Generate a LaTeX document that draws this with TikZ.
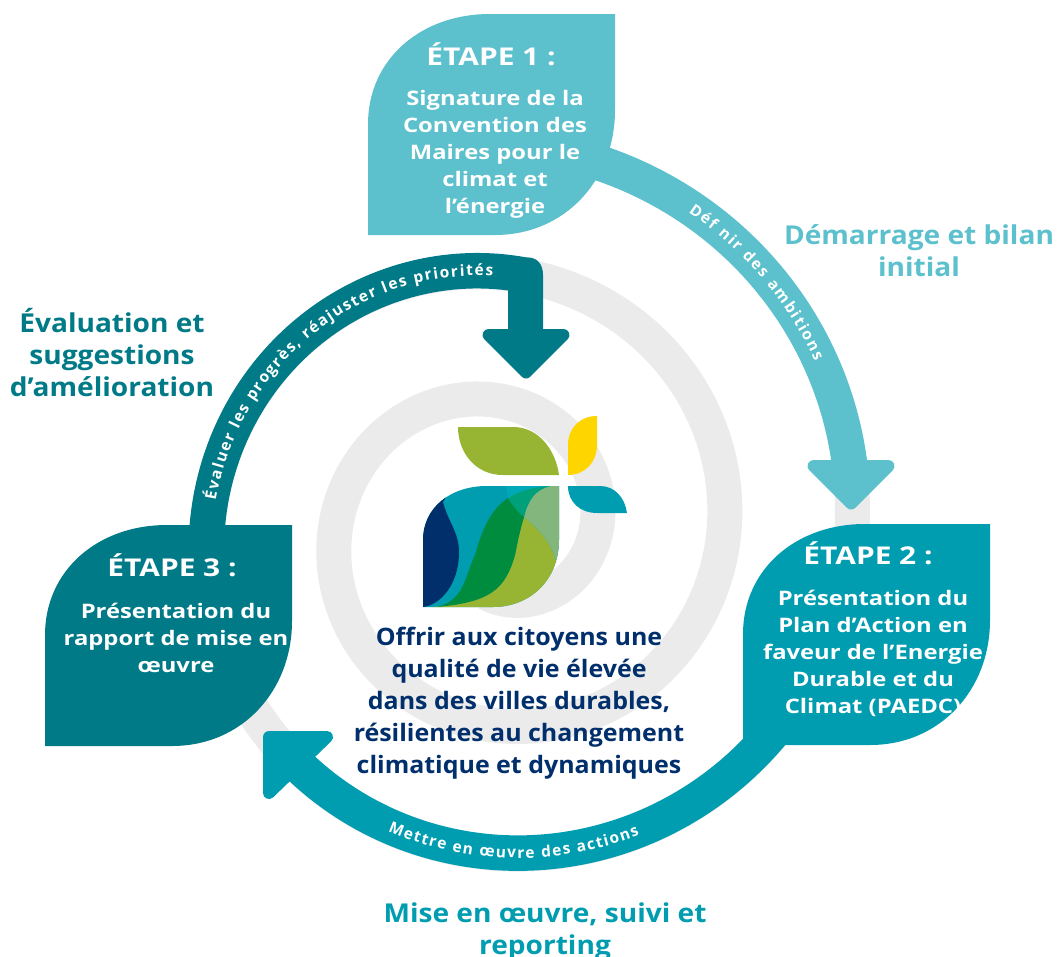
\documentclass[tikz,border=0pt]{standalone}
\usepackage{fontspec}
\setmainfont{Open Sans}
\newfontfamily\titlefam[FakeStretch=1.22]{Open Sans}
\newfontfamily\bodyfam[FakeStretch=1.19]{Open Sans}
\newfontfamily\phasefam[FakeStretch=1.08]{Open Sans}
\newfontfamily\centrefam[FakeStretch=1.04]{Open Sans}
\usetikzlibrary{decorations.text}
\definecolor{lightc}{HTML}{5CC0CD}
\definecolor{tealc}{HTML}{009CB0}
\definecolor{darkc}{HTML}{007A87}
\definecolor{greyc}{HTML}{EBEBEB}
\definecolor{navyc}{HTML}{002F6C}
\definecolor{greenc}{HTML}{008C3E}
\definecolor{limec}{HTML}{97B433}
\definecolor{yellowc}{HTML}{FFD500}
\definecolor{palec}{HTML}{82B67C}
\definecolor{midc}{HTML}{00A07A}
\definecolor{brightc}{HTML}{00A9B7}
\newcommand{\leafshape}{(0,221) -- (0,110) .. controls (0,46) and (52,0) .. (122,0) -- (247,0) -- (247,96) .. controls (247,166) and (197,221) .. (127,221) -- cycle}
\newcommand{\arcfont}{\fontsize{15.5}{16}\selectfont\bfseries\color{white}}
\tikzset{
  declare function={sr(\t)=98.5+0.355556*\t; sx(\t,\o)=497.5+(sr(\t)+\o)*cos(\t); sy(\t,\o)=530-(sr(\t)+\o)*sin(\t); gy(\t,\o)=531-(sr(\t)+\o)*sin(\t);},
  band/.style={line width=35.5pt},
  head/.style={line width=12pt,line join=round},
  stagetitle/.style={text=white,font=\titlefam\fontsize{24.5}{28}\selectfont\bfseries,align=center},
  stagebody/.style={text=white,font=\bodyfam\fontsize{20}{27}\selectfont\bfseries,align=center},
  phase/.style={font=\phasefam\fontsize{26}{32}\selectfont\bfseries,align=center},
  centre/.style={text=navyc,font=\centrefam\fontsize{24}{32}\selectfont\bfseries,align=center},
}
\begin{document}
\begin{tikzpicture}[x=1pt,y=-1pt]
\useasboundingbox (0,0) rectangle (1057,956);
% grey spiral
\draw[greyc,line width=35pt] plot[domain=-100:730,samples=300,variable=\t] ({sx(\t,0)},{gy(\t,0)});
% logo
\fill[limec] (458,427) -- (513,427) .. controls (540,427) and (556,452) .. (559,475) -- (503,475) .. controls (475,475) and (458,452) .. (458,427) -- cycle;
\fill[yellowc] (597,416) -- (597,445) .. controls (597,462) and (585,475) .. (568,475) -- (568,445) .. controls (568,428) and (580,416) .. (597,416) -- cycle;
\fill[tealc] (568,486) -- (600,486) .. controls (615,486) and (625,498) .. (627,513) -- (597,513) .. controls (580,513) and (568,502) .. (568,486) -- cycle;
\begin{scope}
\clip (423,607) -- (423,540) .. controls (423,508) and (450,486) .. (487,486) -- (559,486) -- (559,540) .. controls (559,580) and (530,607) .. (493,607) -- cycle;
\fill[tealc] (420,480) rectangle (565,610);
\fill[navyc] (420,480) -- (450,490) -- (443,502) .. controls (448,522) and (459,532) .. (459,552) .. controls (459,585) and (440,605) .. (423,607) -- (420,610) -- cycle;
\fill[limec] (432,607) .. controls (490,602) and (505,590) .. (515,555) .. controls (518,540) and (520,530) .. (524,517) .. controls (540,530) and (553,545) .. (557,565) -- (565,610) -- (430,610) -- cycle;
\fill[palec] (524,517) .. controls (528,500) and (535,490) .. (550,486) -- (565,486) -- (565,570) -- (557,565) .. controls (553,545) and (540,530) .. (524,517) -- cycle;
\fill[greenc] (437,607) .. controls (465,600) and (465,575) .. (475,555) .. controls (482,530) and (490,510) .. (508,498) .. controls (512,505) and (518,512) .. (524,517) .. controls (520,530) and (518,540) .. (515,555) .. controls (505,590) and (490,602) .. (437,607) -- cycle;
\fill[midc] (508,498) .. controls (520,490) and (535,487) .. (550,486) .. controls (535,490) and (528,500) .. (524,517) .. controls (518,512) and (512,505) .. (508,498) -- cycle;
\fill[brightc] (506,486) -- (550,486) .. controls (535,487) and (520,490) .. (508,498) -- cycle;
\end{scope}
% arrow 1 (light)
\draw[lightc,band] plot[domain=800:728,samples=60,variable=\t] ({sx(\t,0)},{sy(\t,0)});
\filldraw[lightc,head] (813.5,466) -- (888.5,466) -- (851,503.5) -- cycle;
% arrow 2 (teal)
\draw[tealc,band] plot[domain=692:588,samples=80,variable=\t] ({sx(\t,0)},{sy(\t,0)});
\filldraw[tealc,head] (269,737) -- (327,737) -- (269,793) -- cycle;
% arrow 3 (dark)
\fill[darkc] plot[domain=542:444,samples=80,variable=\t] ({sx(\t,17.8)},{sy(\t,17.8)}) .. controls (538,257) and (543,265) .. (543,275) -- (543,335) -- (508,335) -- (508,290) -- plot[domain=447.5:542,samples=80,variable=\t] ({sx(\t,-17.8)},{sy(\t,-17.8)}) -- cycle;
\filldraw[darkc,head] (488.5,335) -- (563.5,335) -- (526,372.5) -- cycle;
% stage shapes
\fill[lightc,shift={(368,14)}] \leafshape;
\fill[tealc,shift={(743,524)}] \leafshape;
\fill[darkc,shift={(45,525)}] \leafshape;
% text along arrows
\path[decorate,decoration={text along path,text align={fit to path},text={|\arcfont|Déf nir des ambitions}}] plot[domain=779:748,samples=40,variable=\t] ({sx(\t,-5)},{sy(\t,-5)});
\path[decorate,decoration={text along path,text align={fit to path},text={|\arcfont|Mettre en œuvre des actions}}] plot[domain=610:655,samples=40,variable=\t] ({sx(\t,5)},{sy(\t,5)});
\path[decorate,decoration={text along path,text align={fit to path},text={|\arcfont|Évaluer les progrès, réajuster les priorités}}] plot[domain=534:451,samples=60,variable=\t] ({sx(\t,-5)},{sy(\t,-5)});
% stage text
\node[stagetitle] (t1) at (491,54) {ÉTAPE 1 :};
\node[stagebody] (b1) at (495,154.5) {Signature de la\\Convention des\\Maires pour le\\climat et\\l’énergie};
\node[stagetitle] (t2) at (868,553) {ÉTAPE 2 :};
\node[stagebody] (b2) at (873,653) {Présentation du\\Plan d’Action en\\faveur de l’Energie\\Durable et du\\Climat (PAEDC)};
\node[stagetitle] (t3) at (172,565) {ÉTAPE 3 :};
\node[stagebody] (b3) at (176,638) {Présentation du\\rapport de mise en\\œuvre};
% phases
\node[phase,text=lightc] (p1) at (919,250.5) {Démarrage et bilan\\initial};
\node[phase,text=darkc] (p3) at (112,353) {Évaluation et\\suggestions\\d’amélioration};
\node[phase,text=tealc] (p2) at (545,932) {Mise en œuvre, suivi et\\reporting};
\node[centre] (c) at (519,703) {Offrir aux citoyens une\\qualité de vie élevée\\dans des villes durables,\\résilientes au changement\\climatique et dynamiques};
\end{tikzpicture}
\end{document}
